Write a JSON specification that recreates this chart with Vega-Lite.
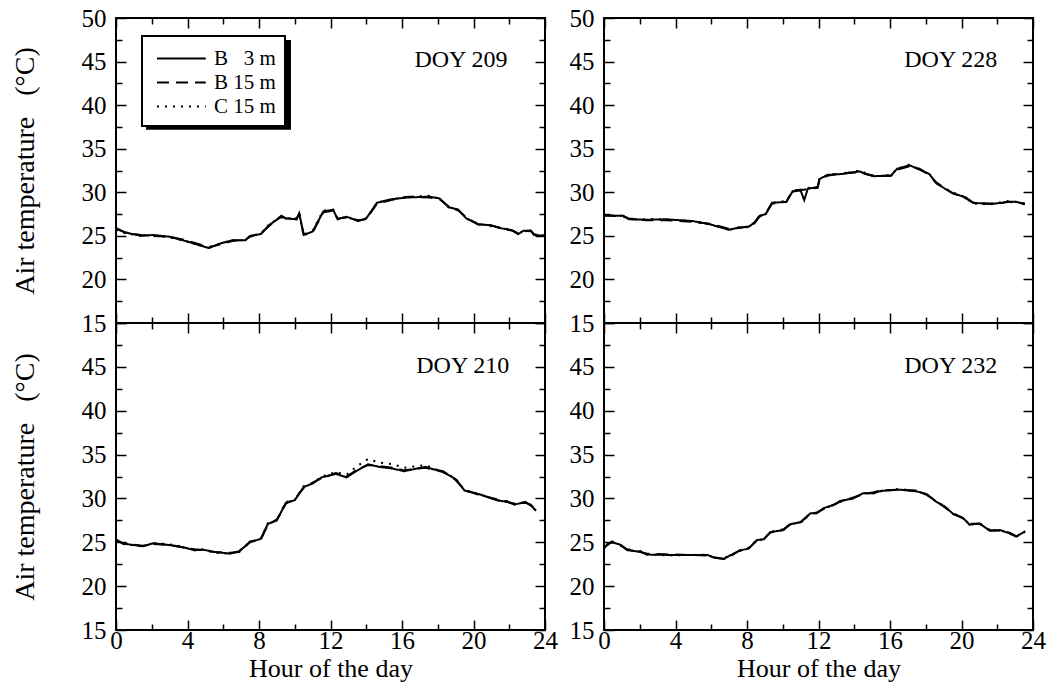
{
"$schema": "https://vega.github.io/schema/vega-lite/v6.json",
"padding": {"left": 9, "top": 5, "right": 5, "bottom": 0},
"background": "white",
"config": {
  "font": "Liberation Serif",
  "view": {"stroke": "black", "strokeWidth": 2},
  "axis": {"domain": false, "grid": false, "tickColor": "black", "tickWidth": 1.5, "labelFlush": false, "labelOverlap": false, "labelBound": false,
    "labelFont": "Liberation Serif", "labelFontSize": 25, "labelColor": "black", "labelPadding": 20,
    "titleFont": "Liberation Serif", "titleFontSize": 28, "titleFontWeight": "normal", "titleColor": "black"},
  "legend": {"orient": "none", "legendX": 26, "legendY": 18, "fillColor": "white", "strokeColor": "black", "strokeWidth": 2, "padding": 9,
    "symbolType": "M-0.6,0H3.3", "symbolSize": 625, "symbolStrokeWidth": 1.8, "symbolStrokeColor": "black",
    "labelFont": "Liberation Serif", "labelFontSize": 21, "labelColor": "black", "labelOffset": 36, "rowPadding": 0}
},
"datasets": {
  "d209": [
    {"h":0,"b3":25.9,"b15":25.8,"c15":25.7},{"h":0.5,"b3":25.4,"b15":25.4,"c15":25.3},{"h":1.4,"b3":25.0,"b15":25.1,"c15":25.0},{"h":2.05,"b3":25.1,"b15":25.0,"c15":25.1},{"h":3,"b3":24.9,"b15":24.9,"c15":24.8},{"h":3.9,"b3":24.4,"b15":24.5,"c15":24.4},{"h":4.7,"b3":23.9,"b15":24.0,"c15":23.9},{"h":5.2,"b3":23.6,"b15":23.7,"c15":23.7},{"h":5.8,"b3":24.1,"b15":24.0,"c15":24.1},{"h":6.5,"b3":24.5,"b15":24.4,"c15":24.5},{"h":7.25,"b3":24.5,"b15":24.6,"c15":24.5},{"h":7.5,"b3":25.0,"b15":24.9,"c15":25.0},{"h":8.1,"b3":25.2,"b15":25.3,"c15":25.2},{"h":8.6,"b3":26.3,"b15":26.2,"c15":26.4},{"h":9.25,"b3":27.2,"b15":27.3,"c15":27.1},{"h":9.5,"b3":27.0,"b15":27.0,"c15":27.1},{"h":10.1,"b3":26.9,"b15":27.0,"c15":26.9},{"h":10.25,"b3":27.6,"b15":27.5,"c15":27.6},{"h":10.5,"b3":25.1,"b15":25.2,"c15":25.0},{"h":11.0,"b3":25.5,"b15":25.4,"c15":25.6},{"h":11.6,"b3":27.8,"b15":27.7,"c15":27.9},{"h":12.15,"b3":28.0,"b15":27.9,"c15":28.0},{"h":12.4,"b3":26.9,"b15":27.0,"c15":26.9},{"h":12.9,"b3":27.2,"b15":27.1,"c15":27.2},{"h":13.55,"b3":26.7,"b15":26.8,"c15":26.7},{"h":14.0,"b3":27.0,"b15":26.9,"c15":27.0},{"h":14.6,"b3":28.8,"b15":28.7,"c15":28.8},{"h":15.4,"b3":29.2,"b15":29.1,"c15":29.2},{"h":16.3,"b3":29.4,"b15":29.5,"c15":29.5},{"h":17.5,"b3":29.5,"b15":29.4,"c15":29.6},{"h":18.1,"b3":29.3,"b15":29.2,"c15":29.3},{"h":18.6,"b3":28.3,"b15":28.4,"c15":28.3},{"h":19.15,"b3":28.0,"b15":27.9,"c15":28.0},{"h":19.6,"b3":27.0,"b15":27.1,"c15":27.0},{"h":20.25,"b3":26.35,"b15":26.3,"c15":26.4},{"h":21.0,"b3":26.2,"b15":26.2,"c15":26.1},{"h":21.6,"b3":25.85,"b15":25.8,"c15":25.9},{"h":22.15,"b3":25.65,"b15":25.6,"c15":25.7},{"h":22.5,"b3":25.2,"b15":25.3,"c15":25.2},{"h":22.8,"b3":25.6,"b15":25.5,"c15":25.6},{"h":23.2,"b3":25.6,"b15":25.6,"c15":25.5},{"h":23.4,"b3":25.1,"b15":25.1,"c15":25.2},{"h":24,"b3":25.0,"b15":25.0,"c15":25.0}
  ],
  "d228": [
    {"h":0,"b3":27.3,"b15":27.4,"c15":27.3},{"h":1.1,"b3":27.3,"b15":27.2,"c15":27.3},{"h":1.4,"b3":26.9,"b15":27.0,"c15":26.9},{"h":2.3,"b3":26.85,"b15":26.8,"c15":26.9},{"h":3.45,"b3":26.9,"b15":26.8,"c15":26.9},{"h":4.95,"b3":26.7,"b15":26.6,"c15":26.7},{"h":5.9,"b3":26.35,"b15":26.4,"c15":26.3},{"h":6.45,"b3":26.0,"b15":26.1,"c15":26.0},{"h":7.0,"b3":25.7,"b15":25.8,"c15":25.7},{"h":7.55,"b3":25.95,"b15":25.9,"c15":26.0},{"h":8.1,"b3":26.05,"b15":26.1,"c15":26.0},{"h":8.4,"b3":26.5,"b15":26.4,"c15":26.5},{"h":8.7,"b3":27.3,"b15":27.2,"c15":27.3},{"h":9.05,"b3":27.5,"b15":27.6,"c15":27.5},{"h":9.4,"b3":28.8,"b15":28.7,"c15":28.8},{"h":10.2,"b3":28.9,"b15":28.9,"c15":29.0},{"h":10.55,"b3":30.1,"b15":30.2,"c15":30.1},{"h":11.0,"b3":30.2,"b15":30.3,"c15":30.2},{"h":11.2,"b3":29.1,"b15":30.3,"c15":30.3},{"h":11.4,"b3":30.4,"b15":30.4,"c15":30.5},{"h":11.95,"b3":30.6,"b15":30.5,"c15":30.6},{"h":12.05,"b3":31.5,"b15":31.4,"c15":31.5},{"h":12.5,"b3":32.0,"b15":31.9,"c15":32.0},{"h":13.35,"b3":32.1,"b15":32.2,"c15":32.1},{"h":14.3,"b3":32.4,"b15":32.3,"c15":32.5},{"h":14.65,"b3":32.1,"b15":32.1,"c15":32.2},{"h":15.1,"b3":31.85,"b15":31.9,"c15":31.8},{"h":16.05,"b3":31.9,"b15":31.9,"c15":32.0},{"h":16.4,"b3":32.7,"b15":32.6,"c15":32.7},{"h":17.1,"b3":33.1,"b15":33.0,"c15":33.2},{"h":17.65,"b3":32.6,"b15":32.7,"c15":32.6},{"h":18.2,"b3":32.1,"b15":32.0,"c15":32.1},{"h":18.6,"b3":31.0,"b15":31.1,"c15":31.0},{"h":19.5,"b3":29.9,"b15":29.9,"c15":30.0},{"h":20.25,"b3":29.4,"b15":29.3,"c15":29.4},{"h":20.65,"b3":28.8,"b15":28.8,"c15":28.7},{"h":21.6,"b3":28.65,"b15":28.7,"c15":28.6},{"h":22.3,"b3":28.8,"b15":28.8,"c15":28.9},{"h":22.6,"b3":28.9,"b15":28.9,"c15":29.0},{"h":23.05,"b3":28.9,"b15":28.8,"c15":28.9},{"h":23.55,"b3":28.65,"b15":28.7,"c15":28.6}
  ],
  "d210": [
    {"h":0,"b3":25.3,"b15":25.2,"c15":25.3},{"h":0.4,"b3":24.85,"b15":24.9,"c15":24.8},{"h":1.5,"b3":24.55,"b15":24.6,"c15":24.5},{"h":2.1,"b3":24.9,"b15":24.8,"c15":24.9},{"h":2.9,"b3":24.7,"b15":24.7,"c15":24.8},{"h":3.5,"b3":24.55,"b15":24.5,"c15":24.6},{"h":4.4,"b3":24.1,"b15":24.2,"c15":24.1},{"h":4.9,"b3":24.15,"b15":24.1,"c15":24.2},{"h":5.5,"b3":23.9,"b15":23.9,"c15":23.8},{"h":6.4,"b3":23.7,"b15":23.8,"c15":23.7},{"h":6.9,"b3":24.0,"b15":23.9,"c15":24.0},{"h":7.5,"b3":25.0,"b15":25.1,"c15":25.0},{"h":8.1,"b3":25.4,"b15":25.3,"c15":25.4},{"h":8.5,"b3":27.1,"b15":27.0,"c15":27.2},{"h":9.0,"b3":27.5,"b15":27.6,"c15":27.5},{"h":9.5,"b3":29.5,"b15":29.4,"c15":29.6},{"h":10.0,"b3":29.8,"b15":29.9,"c15":29.8},{"h":10.5,"b3":31.3,"b15":31.2,"c15":31.4},{"h":11.0,"b3":31.7,"b15":31.8,"c15":31.7},{"h":11.5,"b3":32.4,"b15":32.3,"c15":32.5},{"h":12.3,"b3":32.8,"b15":32.9,"c15":33.0},{"h":12.9,"b3":32.4,"b15":32.5,"c15":32.7},{"h":13.5,"b3":33.2,"b15":33.3,"c15":33.7},{"h":14.1,"b3":33.9,"b15":33.8,"c15":34.5},{"h":14.7,"b3":33.6,"b15":33.7,"c15":34.1},{"h":15.5,"b3":33.4,"b15":33.5,"c15":33.9},{"h":16.1,"b3":33.1,"b15":33.2,"c15":33.5},{"h":17.3,"b3":33.6,"b15":33.5,"c15":33.8},{"h":18.3,"b3":33.0,"b15":33.1,"c15":33.0},{"h":19.0,"b3":32.2,"b15":32.1,"c15":32.3},{"h":19.5,"b3":30.9,"b15":31.0,"c15":30.9},{"h":20.3,"b3":30.5,"b15":30.4,"c15":30.5},{"h":21.3,"b3":29.8,"b15":29.9,"c15":29.8},{"h":21.9,"b3":29.6,"b15":29.6,"c15":29.7},{"h":22.3,"b3":29.3,"b15":29.4,"c15":29.3},{"h":22.9,"b3":29.6,"b15":29.5,"c15":29.6},{"h":23.2,"b3":29.2,"b15":29.3,"c15":29.2},{"h":23.5,"b3":28.6,"b15":28.7,"c15":28.6}
  ],
  "d232": [
    {"h":0,"b3":24.3,"b15":24.4,"c15":24.3},{"h":0.2,"b3":24.8,"b15":24.7,"c15":24.8},{"h":0.45,"b3":25.0,"b15":25.1,"c15":25.0},{"h":0.95,"b3":24.7,"b15":24.6,"c15":24.7},{"h":1.3,"b3":24.1,"b15":24.2,"c15":24.1},{"h":2.05,"b3":23.9,"b15":23.9,"c15":24.0},{"h":2.4,"b3":23.6,"b15":23.7,"c15":23.6},{"h":3.9,"b3":23.55,"b15":23.6,"c15":23.5},{"h":5.8,"b3":23.55,"b15":23.5,"c15":23.6},{"h":6.15,"b3":23.25,"b15":23.3,"c15":23.2},{"h":6.7,"b3":23.1,"b15":23.1,"c15":23.2},{"h":7.15,"b3":23.6,"b15":23.5,"c15":23.6},{"h":7.6,"b3":24.05,"b15":24.1,"c15":24.0},{"h":8.1,"b3":24.3,"b15":24.3,"c15":24.4},{"h":8.55,"b3":25.25,"b15":25.2,"c15":25.3},{"h":8.95,"b3":25.35,"b15":25.4,"c15":25.3},{"h":9.3,"b3":26.15,"b15":26.1,"c15":26.2},{"h":10.05,"b3":26.4,"b15":26.5,"c15":26.4},{"h":10.4,"b3":27.05,"b15":27.0,"c15":27.1},{"h":11.0,"b3":27.3,"b15":27.3,"c15":27.2},{"h":11.55,"b3":28.3,"b15":28.2,"c15":28.3},{"h":11.9,"b3":28.3,"b15":28.4,"c15":28.3},{"h":12.3,"b3":28.9,"b15":28.8,"c15":28.9},{"h":12.85,"b3":29.25,"b15":29.3,"c15":29.2},{"h":13.2,"b3":29.7,"b15":29.6,"c15":29.7},{"h":13.95,"b3":30.0,"b15":30.1,"c15":30.0},{"h":14.5,"b3":30.6,"b15":30.5,"c15":30.6},{"h":15.1,"b3":30.6,"b15":30.7,"c15":30.6},{"h":15.45,"b3":30.85,"b15":30.9,"c15":30.8},{"h":16.55,"b3":31.0,"b15":31.0,"c15":31.1},{"h":17.5,"b3":30.8,"b15":30.9,"c15":30.8},{"h":18.05,"b3":30.5,"b15":30.4,"c15":30.5},{"h":18.6,"b3":29.6,"b15":29.7,"c15":29.6},{"h":19.05,"b3":29.1,"b15":29.0,"c15":29.1},{"h":19.55,"b3":28.2,"b15":28.3,"c15":28.2},{"h":20.1,"b3":27.75,"b15":27.7,"c15":27.8},{"h":20.45,"b3":27.0,"b15":27.1,"c15":27.0},{"h":21.0,"b3":27.15,"b15":27.1,"c15":27.2},{"h":21.6,"b3":26.3,"b15":26.4,"c15":26.3},{"h":22.15,"b3":26.4,"b15":26.3,"c15":26.4},{"h":22.7,"b3":26.0,"b15":26.1,"c15":26.0},{"h":23.05,"b3":25.65,"b15":25.7,"c15":25.6},{"h":23.35,"b3":26.0,"b15":25.9,"c15":26.0},{"h":23.55,"b3":26.2,"b15":26.3,"c15":26.2}
  ]
},
"spacing": {"row": 0, "column": 59},
"bounds": "flush",
"columns": 2,
"concat": [
  {"width": 429, "height": 305, "data": {"name": "d209"},
   "transform": [{"fold": ["b3", "b15", "c15"], "as": ["series", "temp"]}],
   "layer": [
    {"data": {"values": [{"a": 1}]}, "mark": {"type": "rect", "color": "black"},
     "encoding": {"x": {"datum": 1.68, "type": "quantitative", "axis": null, "scale": {"domain": [0, 24], "nice": false}}, "x2": {"datum": 9.79},
       "y": {"datum": 47.48, "type": "quantitative", "axis": null, "scale": {"domain": [15, 50], "nice": false, "zero": false}}, "y2": {"datum": 37.19}}},
    {"mark": {"type": "line", "strokeWidth": 2, "color": "black"},
     "encoding": {
      "x": {"field": "h", "type": "quantitative", "scale": {"domain": [0, 24], "nice": false}, "axis": {"orient": "bottom", "values": [0,4,8,12,16,20,24], "tickSize": -10, "labels": false, "title": null}},
      "y": {"field": "temp", "type": "quantitative", "scale": {"domain": [15, 50], "nice": false, "zero": false}, "axis": {"orient": "left", "values": [15,20,25,30,35,40,45,50], "tickSize": -10, "title": "Air temperature\u00a0\u00a0\u00a0(°C)", "titlePadding": 42}},
      "strokeDash": {"field": "series", "type": "nominal", "scale": {"domain": ["b3", "b15", "c15"], "range": [[1, 0], [12, 7], [2, 6]]},
        "legend": {"title": null, "labelExpr": "datum.value == 'b3' ? 'B \u20073 m' : datum.value == 'b15' ? 'B 15 m' : 'C 15 m'"}}}},
    {"mark": {"type": "point", "opacity": 0},
     "encoding": {"x": {"field": "h", "type": "quantitative", "scale": {"domain": [0, 24], "nice": false}, "axis": {"orient": "bottom", "values": [2,6,10,14,18,22], "tickSize": -6, "labels": false, "title": null}},
       "y": {"field": "temp", "type": "quantitative", "scale": {"domain": [15, 50], "nice": false, "zero": false}, "axis": {"orient": "left", "values": [17.5,22.5,27.5,32.5,37.5,42.5,47.5], "tickSize": -6, "labels": false, "title": null}}}},
    {"mark": {"type": "point", "opacity": 0},
     "encoding": {"x": {"field": "h", "type": "quantitative", "scale": {"domain": [0, 24], "nice": false}, "axis": {"orient": "top", "values": [0,4,8,12,16,20,24], "tickSize": -10, "labels": false, "title": null}},
       "y": {"field": "temp", "type": "quantitative", "scale": {"domain": [15, 50], "nice": false, "zero": false}, "axis": {"orient": "right", "values": [15,20,25,30,35,40,45,50], "tickSize": -10, "labels": false, "title": null}}}},
    {"mark": {"type": "point", "opacity": 0},
     "encoding": {"x": {"field": "h", "type": "quantitative", "scale": {"domain": [0, 24], "nice": false}, "axis": {"orient": "top", "values": [2,6,10,14,18,22], "tickSize": -6, "labels": false, "title": null}},
       "y": {"field": "temp", "type": "quantitative", "scale": {"domain": [15, 50], "nice": false, "zero": false}, "axis": {"orient": "right", "values": [17.5,22.5,27.5,32.5,37.5,42.5,47.5], "tickSize": -6, "labels": false, "title": null}}}},
    {"data": {"values": [{"label": "DOY 209"}]}, "mark": {"type": "text", "fontSize": 24, "font": "Liberation Serif", "color": "black"},
     "encoding": {"text": {"field": "label"}, "x": {"datum": 19.3, "type": "quantitative", "axis": null}, "y": {"datum": 45.15, "type": "quantitative", "axis": null}}}
   ],
   "resolve": {"axis": {"x": "independent", "y": "independent"}}},
  {"width": 429, "height": 305, "data": {"name": "d228"},
   "transform": [{"fold": ["b3", "b15", "c15"], "as": ["series", "temp"]}],
   "layer": [
    {"mark": {"type": "line", "strokeWidth": 2, "color": "black"},
     "encoding": {
      "x": {"field": "h", "type": "quantitative", "scale": {"domain": [0, 24], "nice": false}, "axis": {"orient": "bottom", "values": [0,4,8,12,16,20,24], "tickSize": -10, "labels": false, "title": null}},
      "y": {"field": "temp", "type": "quantitative", "scale": {"domain": [15, 50], "nice": false, "zero": false}, "axis": {"orient": "left", "values": [15,20,25,30,35,40,45,50], "tickSize": -10, "title": null}},
      "strokeDash": {"field": "series", "type": "nominal", "scale": {"domain": ["b3", "b15", "c15"], "range": [[1, 0], [12, 7], [2, 6]]}}}},
    {"mark": {"type": "point", "opacity": 0},
     "encoding": {"x": {"field": "h", "type": "quantitative", "scale": {"domain": [0, 24], "nice": false}, "axis": {"orient": "bottom", "values": [2,6,10,14,18,22], "tickSize": -6, "labels": false, "title": null}},
       "y": {"field": "temp", "type": "quantitative", "scale": {"domain": [15, 50], "nice": false, "zero": false}, "axis": {"orient": "left", "values": [17.5,22.5,27.5,32.5,37.5,42.5,47.5], "tickSize": -6, "labels": false, "title": null}}}},
    {"mark": {"type": "point", "opacity": 0},
     "encoding": {"x": {"field": "h", "type": "quantitative", "scale": {"domain": [0, 24], "nice": false}, "axis": {"orient": "top", "values": [0,4,8,12,16,20,24], "tickSize": -10, "labels": false, "title": null}},
       "y": {"field": "temp", "type": "quantitative", "scale": {"domain": [15, 50], "nice": false, "zero": false}, "axis": {"orient": "right", "values": [15,20,25,30,35,40,45,50], "tickSize": -10, "labels": false, "title": null}}}},
    {"mark": {"type": "point", "opacity": 0},
     "encoding": {"x": {"field": "h", "type": "quantitative", "scale": {"domain": [0, 24], "nice": false}, "axis": {"orient": "top", "values": [2,6,10,14,18,22], "tickSize": -6, "labels": false, "title": null}},
       "y": {"field": "temp", "type": "quantitative", "scale": {"domain": [15, 50], "nice": false, "zero": false}, "axis": {"orient": "right", "values": [17.5,22.5,27.5,32.5,37.5,42.5,47.5], "tickSize": -6, "labels": false, "title": null}}}},
    {"data": {"values": [{"label": "DOY 228"}]}, "mark": {"type": "text", "fontSize": 24, "font": "Liberation Serif", "color": "black"},
     "encoding": {"text": {"field": "label"}, "x": {"datum": 19.4, "type": "quantitative", "axis": null}, "y": {"datum": 45.15, "type": "quantitative", "axis": null}}}
   ],
   "resolve": {"axis": {"x": "independent", "y": "independent"}}},
  {"width": 429, "height": 307, "data": {"name": "d210"},
   "transform": [{"fold": ["b3", "b15", "c15"], "as": ["series", "temp"]}],
   "layer": [
    {"mark": {"type": "line", "strokeWidth": 2, "color": "black"},
     "encoding": {
      "x": {"field": "h", "type": "quantitative", "scale": {"domain": [0, 24], "nice": false}, "axis": {"orient": "bottom", "values": [0,4,8,12,16,20,24], "tickSize": -10, "labelPadding": 8, "title": "Hour of the day", "titleFontSize": 26, "titlePadding": 2}},
      "y": {"field": "temp", "type": "quantitative", "scale": {"domain": [15, 50], "nice": false, "zero": false}, "axis": {"orient": "left", "values": [15,20,25,30,35,40,45,50], "tickSize": -10, "labelExpr": "datum.value == 50 ? '' : datum.label", "title": "Air temperature\u00a0\u00a0\u00a0(°C)", "titlePadding": 42}},
      "strokeDash": {"field": "series", "type": "nominal", "scale": {"domain": ["b3", "b15", "c15"], "range": [[1, 0], [12, 7], [2, 6]]}}}},
    {"mark": {"type": "point", "opacity": 0},
     "encoding": {"x": {"field": "h", "type": "quantitative", "scale": {"domain": [0, 24], "nice": false}, "axis": {"orient": "bottom", "values": [2,6,10,14,18,22], "tickSize": -6, "labels": false, "title": null}},
       "y": {"field": "temp", "type": "quantitative", "scale": {"domain": [15, 50], "nice": false, "zero": false}, "axis": {"orient": "left", "values": [17.5,22.5,27.5,32.5,37.5,42.5,47.5], "tickSize": -6, "labels": false, "title": null}}}},
    {"mark": {"type": "point", "opacity": 0},
     "encoding": {"x": {"field": "h", "type": "quantitative", "scale": {"domain": [0, 24], "nice": false}, "axis": {"orient": "top", "values": [0,4,8,12,16,20,24], "tickSize": -10, "labels": false, "title": null}},
       "y": {"field": "temp", "type": "quantitative", "scale": {"domain": [15, 50], "nice": false, "zero": false}, "axis": {"orient": "right", "values": [15,20,25,30,35,40,45,50], "tickSize": -10, "labels": false, "title": null}}}},
    {"mark": {"type": "point", "opacity": 0},
     "encoding": {"x": {"field": "h", "type": "quantitative", "scale": {"domain": [0, 24], "nice": false}, "axis": {"orient": "top", "values": [2,6,10,14,18,22], "tickSize": -6, "labels": false, "title": null}},
       "y": {"field": "temp", "type": "quantitative", "scale": {"domain": [15, 50], "nice": false, "zero": false}, "axis": {"orient": "right", "values": [17.5,22.5,27.5,32.5,37.5,42.5,47.5], "tickSize": -6, "labels": false, "title": null}}}},
    {"data": {"values": [{"label": "DOY 210"}]}, "mark": {"type": "text", "fontSize": 24, "font": "Liberation Serif", "color": "black"},
     "encoding": {"text": {"field": "label"}, "x": {"datum": 19.4, "type": "quantitative", "axis": null}, "y": {"datum": 45.15, "type": "quantitative", "axis": null}}}
   ],
   "resolve": {"axis": {"x": "independent", "y": "independent"}}},
  {"width": 429, "height": 307, "data": {"name": "d232"},
   "transform": [{"fold": ["b3", "b15", "c15"], "as": ["series", "temp"]}],
   "layer": [
    {"mark": {"type": "line", "strokeWidth": 2, "color": "black"},
     "encoding": {
      "x": {"field": "h", "type": "quantitative", "scale": {"domain": [0, 24], "nice": false}, "axis": {"orient": "bottom", "values": [0,4,8,12,16,20,24], "tickSize": -10, "labelPadding": 8, "title": "Hour of the day", "titleFontSize": 26, "titlePadding": 2}},
      "y": {"field": "temp", "type": "quantitative", "scale": {"domain": [15, 50], "nice": false, "zero": false}, "axis": {"orient": "left", "values": [15,20,25,30,35,40,45,50], "tickSize": -10, "labelExpr": "datum.value == 50 ? '' : datum.label", "title": null}},
      "strokeDash": {"field": "series", "type": "nominal", "scale": {"domain": ["b3", "b15", "c15"], "range": [[1, 0], [12, 7], [2, 6]]}}}},
    {"mark": {"type": "point", "opacity": 0},
     "encoding": {"x": {"field": "h", "type": "quantitative", "scale": {"domain": [0, 24], "nice": false}, "axis": {"orient": "bottom", "values": [2,6,10,14,18,22], "tickSize": -6, "labels": false, "title": null}},
       "y": {"field": "temp", "type": "quantitative", "scale": {"domain": [15, 50], "nice": false, "zero": false}, "axis": {"orient": "left", "values": [17.5,22.5,27.5,32.5,37.5,42.5,47.5], "tickSize": -6, "labels": false, "title": null}}}},
    {"mark": {"type": "point", "opacity": 0},
     "encoding": {"x": {"field": "h", "type": "quantitative", "scale": {"domain": [0, 24], "nice": false}, "axis": {"orient": "top", "values": [0,4,8,12,16,20,24], "tickSize": -10, "labels": false, "title": null}},
       "y": {"field": "temp", "type": "quantitative", "scale": {"domain": [15, 50], "nice": false, "zero": false}, "axis": {"orient": "right", "values": [15,20,25,30,35,40,45,50], "tickSize": -10, "labels": false, "title": null}}}},
    {"mark": {"type": "point", "opacity": 0},
     "encoding": {"x": {"field": "h", "type": "quantitative", "scale": {"domain": [0, 24], "nice": false}, "axis": {"orient": "top", "values": [2,6,10,14,18,22], "tickSize": -6, "labels": false, "title": null}},
       "y": {"field": "temp", "type": "quantitative", "scale": {"domain": [15, 50], "nice": false, "zero": false}, "axis": {"orient": "right", "values": [17.5,22.5,27.5,32.5,37.5,42.5,47.5], "tickSize": -6, "labels": false, "title": null}}}},
    {"data": {"values": [{"label": "DOY 232"}]}, "mark": {"type": "text", "fontSize": 24, "font": "Liberation Serif", "color": "black"},
     "encoding": {"text": {"field": "label"}, "x": {"datum": 19.4, "type": "quantitative", "axis": null}, "y": {"datum": 45.15, "type": "quantitative", "axis": null}}}
   ],
   "resolve": {"axis": {"x": "independent", "y": "independent"}}}
]
}
